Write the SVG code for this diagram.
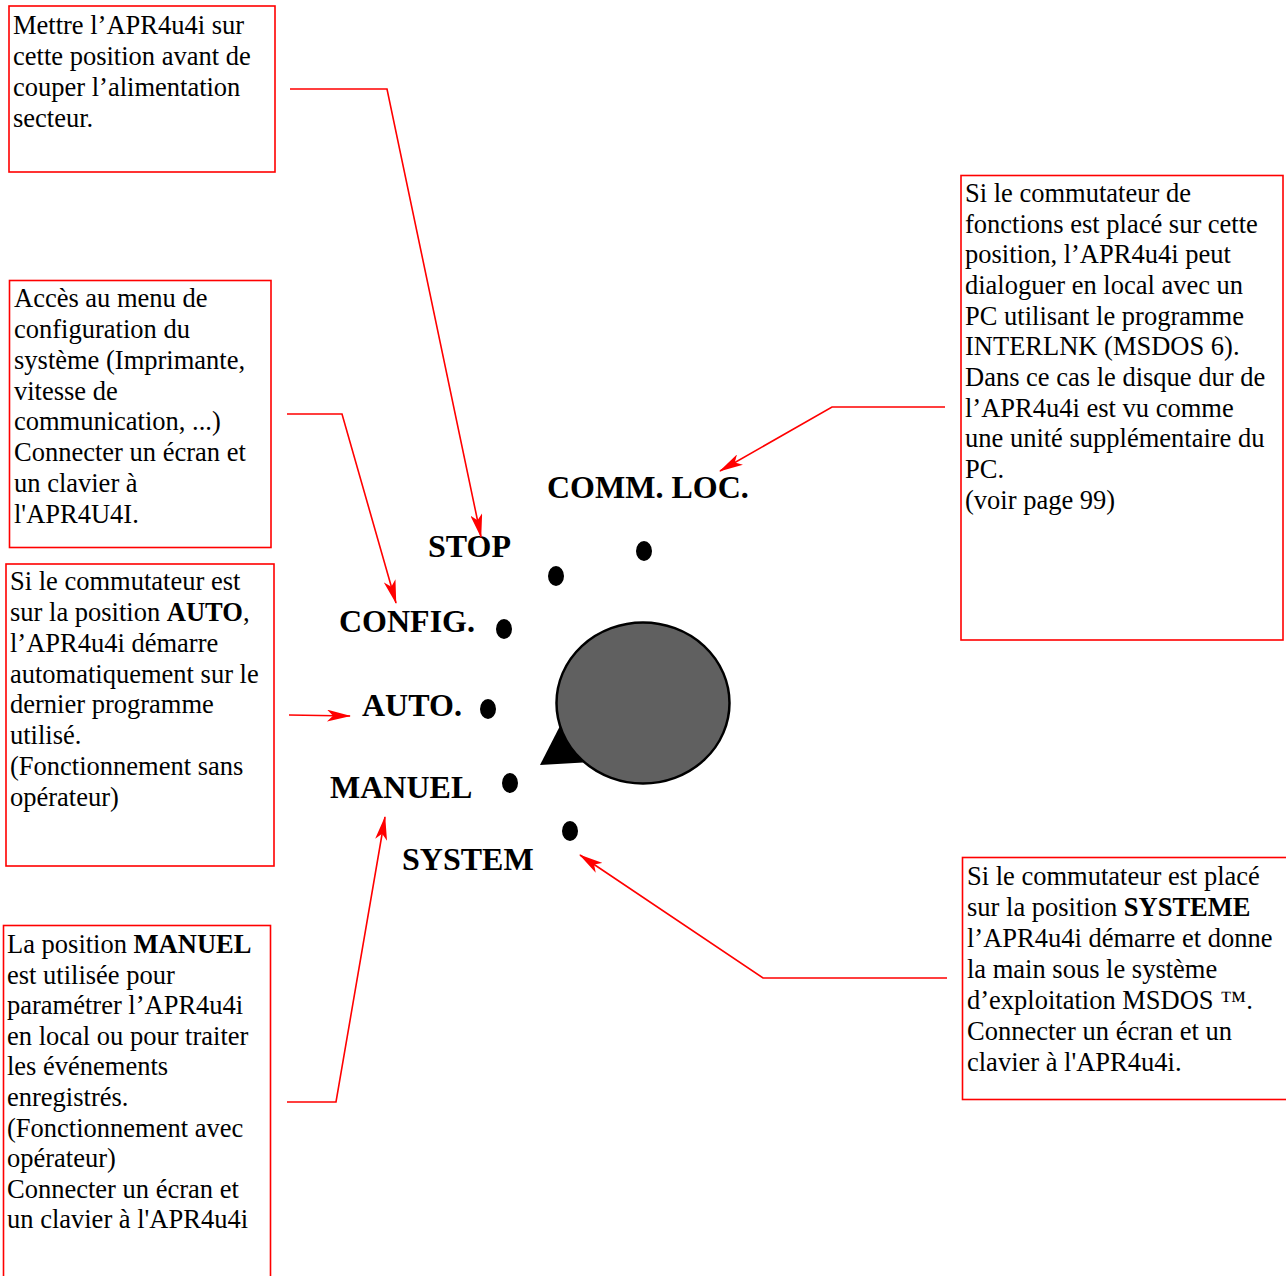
<svg xmlns="http://www.w3.org/2000/svg" width="1286" height="1276" viewBox="0 0 1286 1276">
<style>
.box{fill:none;stroke:#ff0000;stroke-width:1.6}
.t{font-family:"Liberation Serif","Times New Roman",serif;font-size:26.5px;fill:#000}
.lbl{font-family:"Liberation Serif","Times New Roman",serif;font-size:32px;font-weight:bold;fill:#000}
.b{font-weight:bold}
.con{fill:none;stroke:#ff0000;stroke-width:1.6;marker-end:url(#arr)}
.dot{fill:#000}
</style>
<defs>
<marker id="arr" markerUnits="userSpaceOnUse" viewBox="0 0 24 12" refX="23" refY="6" markerWidth="24" markerHeight="12" orient="auto">
<path d="M0,0 L24,6 L0,12 L6,6 z" fill="#ff0000"/>
</marker>
</defs>
<rect width="1286" height="1276" fill="#fff"/>

<g id="knob">
<polygon points="540,765 562,722 592,762" fill="#000"/>
<ellipse cx="643" cy="703" rx="86.5" ry="80.5" fill="#606060" stroke="#000" stroke-width="2.5"/>
</g>
<g id="dots">
<ellipse class="dot" cx="644" cy="551" rx="8" ry="10"/>
<ellipse class="dot" cx="556" cy="576" rx="8" ry="10"/>
<ellipse class="dot" cx="504" cy="629" rx="8" ry="10"/>
<ellipse class="dot" cx="488" cy="709" rx="8" ry="10"/>
<ellipse class="dot" cx="510" cy="783" rx="8" ry="10"/>
<ellipse class="dot" cx="570" cy="831" rx="8" ry="10"/>
</g>
<g id="labels">
<text class="lbl" x="547" y="498">COMM. LOC.</text>
<text class="lbl" x="428" y="557">STOP</text>
<text class="lbl" x="339" y="632">CONFIG.</text>
<text class="lbl" x="362" y="716">AUTO.</text>
<text class="lbl" x="330" y="798">MANUEL</text>
<text class="lbl" x="402" y="870">SYSTEM</text>
</g>

<g id="note-stop">
<rect class="box" x="9" y="6" width="266" height="166"/>
<text class="t" x="13" y="34">Mettre l’APR4u4i sur</text>
<text class="t" x="13" y="65">cette position avant de</text>
<text class="t" x="13" y="96">couper l’alimentation</text>
<text class="t" x="13" y="127">secteur.</text>
</g>

<g id="note-config">
<rect class="box" x="9.5" y="280.5" width="261.5" height="267"/>
<text class="t" x="14" y="307">Accès au menu de</text>
<text class="t" x="14" y="338">configuration du</text>
<text class="t" x="14" y="369">système (Imprimante,</text>
<text class="t" x="14" y="400">vitesse de</text>
<text class="t" x="14" y="430">communication, ...)</text>
<text class="t" x="14" y="461">Connecter un écran et</text>
<text class="t" x="14" y="492">un clavier à</text>
<text class="t" x="14" y="523">l'APR4U4I.</text>
</g>

<g id="note-auto">
<rect class="box" x="6" y="564" width="268" height="302"/>
<text class="t" x="10" y="590">Si le commutateur est</text>
<text class="t" x="10" y="621">sur la position <tspan class="b">AUTO</tspan>,</text>
<text class="t" x="10" y="652">l’APR4u4i démarre</text>
<text class="t" x="10" y="683">automatiquement sur le</text>
<text class="t" x="10" y="713">dernier programme</text>
<text class="t" x="10" y="744">utilisé.</text>
<text class="t" x="10" y="775">(Fonctionnement sans</text>
<text class="t" x="10" y="806">opérateur)</text>
</g>

<g id="note-manuel">
<rect class="box" x="3.5" y="925.5" width="267" height="360"/>
<text class="t" x="7" y="953">La position <tspan class="b">MANUEL</tspan></text>
<text class="t" x="7" y="984">est utilisée pour</text>
<text class="t" x="7" y="1014">paramétrer l’APR4u4i</text>
<text class="t" x="7" y="1045">en local ou pour traiter</text>
<text class="t" x="7" y="1075">les événements</text>
<text class="t" x="7" y="1106">enregistrés.</text>
<text class="t" x="7" y="1137">(Fonctionnement avec</text>
<text class="t" x="7" y="1167">opérateur)</text>
<text class="t" x="7" y="1198">Connecter un écran et</text>
<text class="t" x="7" y="1228">un clavier à l'APR4u4i</text>
</g>

<g id="note-comm">
<rect class="box" x="961" y="175.5" width="322" height="464.5"/>
<text class="t" x="965" y="202">Si le commutateur de</text>
<text class="t" x="965" y="233">fonctions est placé sur cette</text>
<text class="t" x="965" y="263">position, l’APR4u4i peut</text>
<text class="t" x="965" y="294">dialoguer en local avec un</text>
<text class="t" x="965" y="325">PC utilisant le programme</text>
<text class="t" x="965" y="355">INTERLNK (MSDOS 6).</text>
<text class="t" x="965" y="386">Dans ce cas le disque dur de</text>
<text class="t" x="965" y="417">l’APR4u4i est vu comme</text>
<text class="t" x="965" y="447">une unité supplémentaire du</text>
<text class="t" x="965" y="478">PC.</text>
<text class="t" x="965" y="509">(voir page 99)</text>
</g>

<g id="note-system">
<rect class="box" x="962.5" y="857.5" width="325" height="242"/>
<text class="t" x="967" y="885">Si le commutateur est placé</text>
<text class="t" x="967" y="916">sur la position <tspan class="b">SYSTEME</tspan></text>
<text class="t" x="967" y="947">l’APR4u4i démarre et donne</text>
<text class="t" x="967" y="978">la main sous le système</text>
<text class="t" x="967" y="1009">d’exploitation MSDOS ™.</text>
<text class="t" x="967" y="1040">Connecter un écran et un</text>
<text class="t" x="967" y="1071">clavier à l'APR4u4i.</text>
</g>

<g id="connectors">
<polyline class="con" points="290,89 387,89 481,537"/>
<polyline class="con" points="287,414 342,414 396,603"/>
<polyline class="con" points="289,715 350,716"/>
<polyline class="con" points="287,1102 336,1102 385,817"/>
<polyline class="con" points="945,407 832,407 720,471"/>
<polyline class="con" points="947,978 763,978 580,855"/>
</g>
</svg>
